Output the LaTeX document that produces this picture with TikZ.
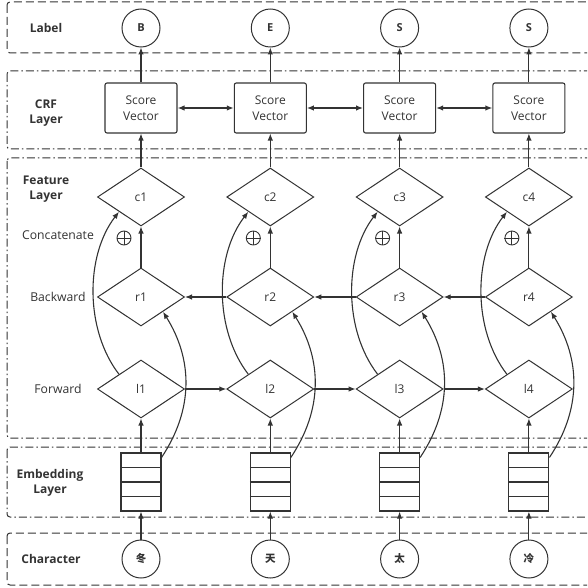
\documentclass[tikz,border=0pt]{standalone}
\usepackage{fontspec}
\setmainfont{Open Sans}
\newfontfamily\cjk{Noto Sans CJK SC}
\usetikzlibrary{shapes.geometric,arrows.meta,calc}
\definecolor{ink}{HTML}{333333}
\begin{document}
\begin{tikzpicture}[x=1pt,y=-1pt,
  every node/.style={text=ink},
  txt/.style={font=\fontsize{12}{16}\selectfont},
  side/.style={font=\fontsize{12.2}{15}\selectfont, align=center},
  sideb/.style={font=\fontsize{12}{15}\selectfont\bfseries, align=center},
  dia/.style={diamond, draw=ink, line width=1pt, minimum width=87pt, minimum height=58pt, inner sep=0pt, txt},
  sv/.style={rectangle, rounded corners=2pt, draw=ink, line width=1.1pt, minimum width=72pt, minimum height=50pt, align=center, txt},
  lab/.style={circle, draw=ink, line width=1pt, minimum size=38pt, inner sep=0pt, font=\fontsize{11}{12}\selectfont\bfseries},
  chr/.style={circle, draw=ink, line width=1pt, minimum size=38pt, inner sep=0pt, font=\fontsize{10.5}{12}\selectfont\cjk\bfseries},
  emb/.style={rectangle, draw=ink, line width=1.1pt, minimum width=40pt, minimum height=58pt, inner sep=0pt},
  opl/.style={circle, draw=ink, line width=0.9pt, minimum size=14pt, inner sep=0pt},
  arr/.style={draw=ink, line width=1.1pt, -{Latex[length=7pt,width=5.5pt]}},
  darr/.style={draw=ink, line width=1.3pt, {Latex[length=7pt,width=5.5pt]}-{Latex[length=7pt,width=5.5pt]}},
  framedash/.style={draw=ink, line width=1pt, rounded corners=3pt, dash pattern=on 8pt off 4pt},
  framedot/.style={draw=ink, line width=1pt, rounded corners=3pt, dash pattern=on 8pt off 3pt on 1.5pt off 3pt},
]
\useasboundingbox (0,0) rectangle (587,588);
\clip (0,0) rectangle (587,588);

% layer frames
\draw[framedash] (7,2) rectangle (597,53);
\draw[framedot] (7,71) rectangle (597,149);
\draw[framedot] (7,158) rectangle (597,438);
\draw[framedot] (7,447) rectangle (597,517);
\draw[framedash] (7,533) rectangle (597,585);

% side labels
\node[sideb] (tLabel) at (46,28) {Label};
\node[sideb] (tCRF) at (46,113) {CRF\\Layer};
\node[sideb] (tFeat) at (46,189) {Feature\\Layer};
\node[side] (tConc) at (58,235) {Concatenate};
\node[side] (tBack) at (58,297) {Backward};
\node[side] (tFwd) at (58,389) {Forward};
\node[sideb] (tEmb) at (50,483) {Embedding\\Layer};
\node[sideb] (tChar) at (51,559) {Character};

% columns
\foreach \i/\x/\lb/\ch in {1/141/B/冬, 2/270.3/E/天, 3/399.6/S/太, 4/528.9/S/冷}{
  \node[lab] (L\i) at (\x,28) {\lb};
  \node[sv] (S\i) at (\x,108) {Score\\Vector};
  \node[dia] (c\i) at (\x,197) {c\i};
  \node[dia] (r\i) at (\x,297) {r\i};
  \node[dia] (l\i) at (\x,389) {l\i};
  \node[emb] (e\i) at (\x,482) {};
  \node[chr] (h\i) at (\x,559) {\ch};
  \node[opl] (p\i) at (\x-17,238) {};
  \draw[ink, line width=0.9pt] (p\i.north) -- (p\i.south) (p\i.west) -- (p\i.east);
  \foreach \f in {0.25,0.5,0.75}
    \draw[ink, line width=1.1pt] ($(e\i.north west)!\f!(e\i.south west)$) -- ($(e\i.north east)!\f!(e\i.south east)$);
  % vertical arrows
  \draw[arr] (h\i) -- (e\i);
  \draw[arr] (e\i) -- (l\i);
  \draw[arr] (r\i) -- (c\i);
  \draw[arr] (c\i) -- (S\i);
  \draw[arr] (S\i) -- (L\i);
  % curved arrows
  \draw[arr] (l\i.north west) .. controls ($(l\i.north west)+(-34,-44)$) and ($(c\i.south west)+(-34,44)$) .. (c\i.south west);
  \coordinate (es\i) at ($(e\i.north east)+(0,5)$);
  \draw[arr] (es\i) .. controls ($(es\i)+(32,-48)$) and ($(r\i.south east)+(30,48)$) .. (r\i.south east);
}

% horizontal arrows
\foreach \i/\j in {1/2,2/3,3/4}{
  \draw[arr] (l\i) -- (l\j);
  \draw[arr] (r\j) -- (r\i);
  \draw[darr] (S\i) -- (S\j);
}
\end{tikzpicture}
\end{document}
